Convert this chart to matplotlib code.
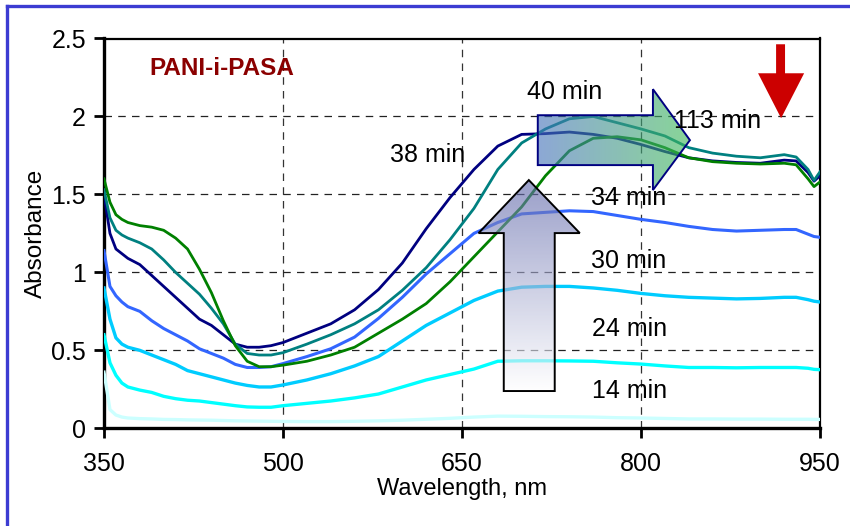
import numpy as np
import matplotlib
matplotlib.use("Agg")
import matplotlib.pyplot as plt
from matplotlib.patches import Polygon
from matplotlib.lines import Line2D

plt.rcParams["font.family"] = ["Liberation Sans", "DejaVu Sans"]

# Wavelength grid (nm) and absorbance spectra recorded at each time
wavelength = [350, 355, 360, 365, 370, 380, 390, 400, 410, 420, 430, 440, 450, 460,
              470, 480, 490, 500, 520, 540, 560, 580, 600, 620, 640, 660, 680, 700,
              720, 740, 760, 780, 800, 820, 840, 860, 880, 900, 920, 930, 940, 945, 950]

a_14 = [0.36, 0.12, 0.085, 0.072, 0.066, 0.062, 0.060, 0.057, 0.056, 0.054, 0.053, 0.052,
        0.050, 0.048, 0.047, 0.046, 0.045, 0.044, 0.043, 0.043, 0.045, 0.048, 0.052, 0.058,
        0.064, 0.072, 0.078, 0.077, 0.075, 0.074, 0.072, 0.068, 0.066, 0.063, 0.060, 0.060,
        0.059, 0.059, 0.058, 0.058, 0.058, 0.057, 0.057]
a_24 = [0.60, 0.42, 0.34, 0.29, 0.265, 0.245, 0.23, 0.205, 0.19, 0.18, 0.175, 0.165,
        0.155, 0.145, 0.137, 0.135, 0.135, 0.145, 0.16, 0.175, 0.195, 0.22, 0.265, 0.31,
        0.345, 0.38, 0.43, 0.433, 0.433, 0.432, 0.43, 0.42, 0.412, 0.40, 0.39, 0.39,
        0.388, 0.39, 0.39, 0.39, 0.385, 0.378, 0.376]
a_30 = [0.90, 0.70, 0.58, 0.54, 0.52, 0.50, 0.47, 0.44, 0.41, 0.37, 0.35, 0.33,
        0.31, 0.29, 0.275, 0.265, 0.265, 0.278, 0.31, 0.35, 0.40, 0.46, 0.56, 0.66,
        0.74, 0.82, 0.88, 0.905, 0.91, 0.91, 0.90, 0.885, 0.865, 0.85, 0.84, 0.835,
        0.83, 0.833, 0.84, 0.84, 0.825, 0.815, 0.81]
a_34 = [1.14, 0.91, 0.85, 0.81, 0.78, 0.75, 0.69, 0.64, 0.60, 0.56, 0.51, 0.48,
        0.45, 0.41, 0.39, 0.39, 0.395, 0.415, 0.46, 0.51, 0.585, 0.705, 0.84, 0.99,
        1.12, 1.25, 1.32, 1.375, 1.385, 1.395, 1.39, 1.365, 1.34, 1.32, 1.295, 1.275,
        1.265, 1.27, 1.275, 1.275, 1.245, 1.23, 1.225]
a_38 = [1.50, 1.25, 1.15, 1.12, 1.09, 1.05, 0.98, 0.91, 0.84, 0.77, 0.70, 0.66,
        0.60, 0.54, 0.52, 0.52, 0.53, 0.55, 0.61, 0.67, 0.76, 0.89, 1.06, 1.28,
        1.48, 1.66, 1.81, 1.885, 1.89, 1.90, 1.885, 1.86, 1.82, 1.775, 1.735, 1.715,
        1.705, 1.70, 1.72, 1.715, 1.64, 1.585, 1.62]
a_40 = [1.53, 1.35, 1.27, 1.24, 1.22, 1.19, 1.15, 1.08, 1.00, 0.93, 0.86, 0.77,
        0.67, 0.54, 0.48, 0.47, 0.47, 0.485, 0.54, 0.60, 0.67, 0.76, 0.885, 1.03,
        1.21, 1.41, 1.66, 1.83, 1.92, 1.985, 2.00, 1.96, 1.92, 1.875, 1.80, 1.765,
        1.745, 1.735, 1.755, 1.74, 1.66, 1.59, 1.645]
a_113 = [1.60, 1.45, 1.37, 1.34, 1.32, 1.30, 1.29, 1.27, 1.22, 1.15, 1.02, 0.87,
         0.69, 0.53, 0.43, 0.395, 0.395, 0.405, 0.43, 0.47, 0.52, 0.61, 0.70, 0.80,
         0.94, 1.10, 1.26, 1.42, 1.62, 1.78, 1.86, 1.87, 1.85, 1.80, 1.735, 1.71,
         1.70, 1.695, 1.70, 1.69, 1.60, 1.55, 1.58]

series = [a_14, a_24, a_30, a_34, a_38, a_40, a_113]
colors = ["#ccffff", "#00ffff", "#00ccff", "#3366ff", "#000080", "#008080", "#008000"]
widths = [2.4, 2.4, 2.4, 2.2, 2.0, 2.0, 2.0]

# time labels and where they sit (nm, absorbance)
time_labels = ["14 min", "24 min", "30 min", "34 min", "38 min", "40 min", "113 min"]
label_x = [790, 790, 790, 790, 621, 736, 864]
label_y = [0.24, 0.64, 1.07, 1.48, 1.75, 2.155, 1.97]

fig = plt.figure(figsize=(8.5, 5.26), dpi=100)
ax = fig.add_axes([104 / 850, 1 - 428.3 / 526, 716 / 850, 389.8 / 526])

for y, c, lw in zip(series, colors, widths):
    ax.plot(wavelength, y, color=c, lw=lw, zorder=3, solid_joinstyle="round")

ax.set_xlim(350, 950)
ax.set_ylim(0, 2.5)
ax.set_xticks([350, 500, 650, 800, 950])
ax.set_yticks([0, 0.5, 1, 1.5, 2, 2.5])
ax.set_yticklabels(["0", "0.5", "1", "1.5", "2", "2.5"])

# dashed grid, interior lines only
for gx in [500, 650, 800]:
    ax.axvline(gx, color="#333333", lw=0.9, ls=(0, (6, 5)), zorder=1)
for gy in [0.5, 1, 1.5, 2]:
    ax.axhline(gy, color="#222222", lw=0.9, ls=(0, (6, 5)), zorder=1)

ax.spines["left"].set_linewidth(2.4)
ax.spines["bottom"].set_linewidth(2.4)
ax.spines["top"].set_linewidth(1.6)
ax.spines["right"].set_linewidth(1.6)
ax.tick_params(axis="both", direction="out", length=7, width=2, labelsize=18)
ax.tick_params(axis="y", pad=6)
ax.tick_params(axis="x", pad=10)

ax.set_xlabel("Wavelength, nm", fontsize=17)
ax.set_ylabel("Absorbance", fontsize=17.5)
ax.xaxis.set_label_coords(0.5, -0.128)
ax.yaxis.set_label_coords(-0.08, 0.5)

ax.text(388, 2.31, "PANI-i-PASA", color="#8b0000", fontsize=17.5,
        fontweight="bold", ha="left", va="center", zorder=6)

for t, lx, ly in zip(time_labels, label_x, label_y):
    ax.text(lx, ly, t, fontsize=18, ha="center", va="center", zorder=6)


def gradient_arrow(verts, c0, c1, vertical, edge):
    poly = Polygon(verts, closed=True, facecolor="none", edgecolor=edge,
                   lw=1.4, zorder=5)
    ax.add_patch(poly)
    xs = [v[0] for v in verts]
    ys = [v[1] for v in verts]
    t = np.linspace(0, 1, 256)
    c0 = np.array(matplotlib.colors.to_rgb(c0))
    c1 = np.array(matplotlib.colors.to_rgb(c1))
    ramp = c0[None, :] * (1 - t[:, None]) + c1[None, :] * t[:, None]
    img = ramp[:, None, :] if vertical else ramp[None, :, :]
    im = ax.imshow(img, extent=[min(xs), max(xs), min(ys), max(ys)],
                   origin="lower", aspect="auto", zorder=4, alpha=0.62,
                   interpolation="bilinear")
    im.set_clip_path(poly)


# up arrow (growth of the polaron band)
up = [(685, 0.239), (727.7, 0.239), (727.7, 1.252), (748.7, 1.252),
      (706, 1.592), (663.9, 1.252), (685, 1.252)]
gradient_arrow(up, "#ffffff", "#5c64a8", True, "black")

# right arrow (red shift)
right = [(713.5, 1.688), (810, 1.688), (810, 1.528), (841, 1.848),
         (810, 2.175), (810, 2.008), (713.5, 2.008)]
gradient_arrow(right, "#4672bc", "#40bc58", False, "#000080")

# red down arrow at the NIR end
down = [(913.2, 2.463), (920.7, 2.463), (920.7, 2.277), (936.7, 2.277),
        (917.4, 1.989), (898.1, 2.277), (913.2, 2.277)]
ax.add_patch(Polygon(down, closed=True, facecolor="#cc0000", edgecolor="none", zorder=5))

ax.set_xlim(350, 950)
ax.set_ylim(0, 2.5)

# frame line along the top and left edge of the slide
bc = "#3c3cd2"
fig.add_artist(Line2D([6.5 / 850, 6.5 / 850], [0, 1 - 6 / 526], color=bc, lw=2.4,
                      transform=fig.transFigure))
fig.add_artist(Line2D([6.5 / 850, 1], [1 - 6 / 526, 1 - 6 / 526], color=bc, lw=2.4,
                      transform=fig.transFigure))

fig.savefig("out.png", dpi=100)
